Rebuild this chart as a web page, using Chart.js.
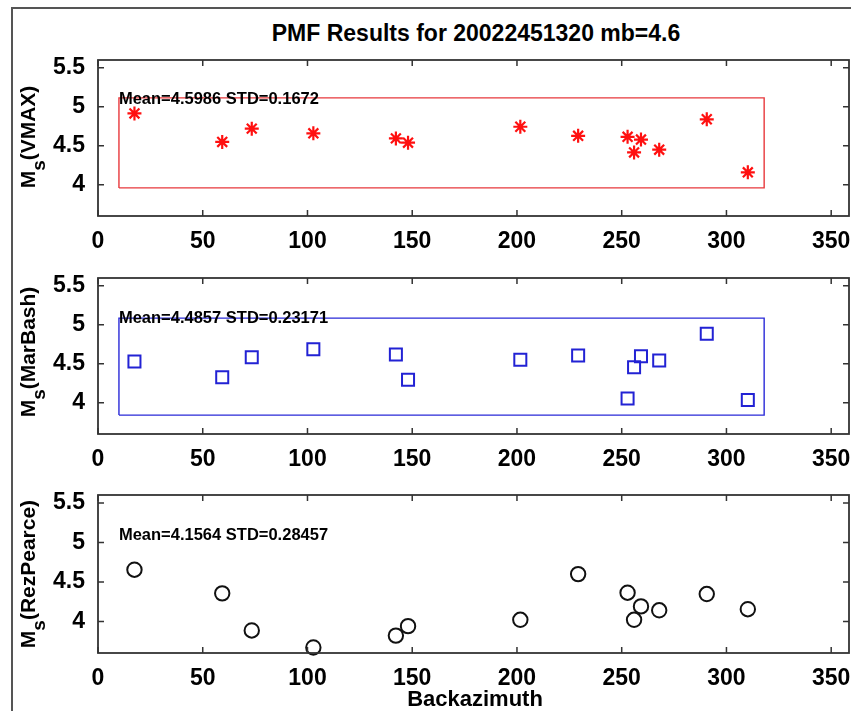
<!DOCTYPE html>
<html>
<head>
<meta charset="utf-8">
<title>PMF Results</title>
<script src="https://cdn.jsdelivr.net/npm/chart.js@4.4.1/dist/chart.umd.min.js"></script>
<style>
    body { margin: 0; background: #fff; }
    #fig {
        position: relative;
        width: 851px;
        height: 711px;
        overflow: hidden;
        font-family: "Liberation Sans", Arial, sans-serif;
        font-weight: bold;
        color: #000;
    }
    #frame {
        position: absolute;
        left: 11px;
        top: 7px;
        width: 900px;
        height: 800px;
        border-left: 2px solid #555;
        border-top: 2px solid #555;
    }
    canvas { position: absolute; left: 0; }
    .title {
        position: absolute;
        left: 476px;
        top: 22px;
        transform: translateX(-50%);
        font-size: 23px;
        line-height: 23px;
        white-space: nowrap;
    }
    .xlab {
        position: absolute;
        left: 475px;
        top: 688px;
        transform: translateX(-50%);
        font-size: 22px;
        line-height: 22px;
        white-space: nowrap;
    }
    .ylab {
        position: absolute;
        font-size: 21px;
        line-height: 21px;
        white-space: nowrap;
        transform: translate(-50%, -50%) rotate(-90deg);
    }
    .ylab sub {
        font-size: 0.9em;
        vertical-align: -0.5em;
        line-height: 0;
    }
</style>
</head>
<body>
<div id="fig">
    <div id="frame"></div>
    <div class="title">PMF Results for 20022451320 mb=4.6</div>

    <canvas id="chartVmax" width="851" height="206" style="top:50px"></canvas>
    <canvas id="chartMarBash" width="851" height="206" style="top:268px"></canvas>
    <canvas id="chartRezPearce" width="851" height="208" style="top:485px"></canvas>

    <div class="ylab" style="left:28px; top:137px">M<sub>s</sub>(VMAX)</div>
    <div class="ylab" style="left:28px; top:352px">M<sub>s</sub>(MarBash)</div>
    <div class="ylab" style="left:28px; top:574px">M<sub>s</sub>(RezPearce)</div>

    <div class="xlab">Backazimuth</div>
</div>

<script>
// station backazimuths (deg), same for every magnitude method
const backazimuth = [17.4, 59.3, 73.4, 102.8, 142.2, 148.0, 201.6, 229.2, 252.8, 255.9, 259.2, 267.9, 290.6, 310.2];

// Ms per station for each method
const msVmax      = [4.915, 4.55, 4.72, 4.66, 4.595, 4.54, 4.744, 4.628, 4.615, 4.415, 4.58, 4.45, 4.84, 4.16];
const msMarBash   = [4.53, 4.328, 4.585, 4.687, 4.62, 4.295, 4.551, 4.606, 4.056, 4.456, 4.597, 4.542, 4.885, 4.035];
const msRezPearce = [4.654, 4.355, 3.885, 3.67, 3.82, 3.94, 4.02, 4.599, 4.363, 4.02, 4.19, 4.141, 4.346, 4.154];

// selection boxes [xmin, xmax] / [ymin, ymax]
const boxVmaxX    = [10, 318];
const boxVmaxY    = [3.96, 5.115];
const boxMarBashX = [10, 318];
const boxMarBashY = [3.842, 5.085];

// summary labels and where they sit (data units)
const statLabels = ['Mean=4.5986 STD=0.1672', 'Mean=4.4857 STD=0.23171', 'Mean=4.1564 STD=0.28457'];
const statX = [10, 10, 10];
const statY = [5.1, 5.08, 5.09];

// axes
const xRange = [0, 358.5];
const yRange = [3.6, 5.6];
const xTicks = [0, 50, 100, 150, 200, 250, 300, 350];
const yTicks = [4, 4.5, 5, 5.5];
const yTickLabels = ['4', '4.5', '5', '5.5'];

const AXIS_COLOR = '#333';
const TICK_FONT = { family: '"Liberation Sans", Arial, sans-serif', size: 23, weight: 'bold' };

function points(xs, ys) {
    return xs.map((x, i) => ({ x: x, y: ys[i] }));
}

function boxOutline(bx, by) {
    return [
        { x: bx[0], y: by[0] }, { x: bx[1], y: by[0] },
        { x: bx[1], y: by[1] }, { x: bx[0], y: by[1] },
        { x: bx[0], y: by[0] }
    ];
}

// closed axes frame with inward ticks on all four sides, plus the stats text
const framePlugin = {
    id: 'frame',
    afterDraw(chart, args, opts) {
        const ctx = chart.ctx;
        const a = chart.chartArea;
        const xs = chart.scales.x;
        const ys = chart.scales.y;
        const tl = 6;

        ctx.save();
        ctx.strokeStyle = AXIS_COLOR;
        ctx.lineWidth = 1.8;
        ctx.strokeRect(a.left, a.top, a.right - a.left, a.bottom - a.top);

        ctx.lineWidth = 1.5;
        ctx.beginPath();
        xTicks.forEach(v => {
            const px = xs.getPixelForValue(v);
            ctx.moveTo(px, a.bottom);
            ctx.lineTo(px, a.bottom - tl);
            ctx.moveTo(px, a.top);
            ctx.lineTo(px, a.top + tl);
        });
        yTicks.forEach(v => {
            const py = ys.getPixelForValue(v);
            ctx.moveTo(a.left, py);
            ctx.lineTo(a.left + tl, py);
            ctx.moveTo(a.right, py);
            ctx.lineTo(a.right - tl, py);
        });
        ctx.stroke();

        ctx.fillStyle = '#000';
        ctx.font = 'bold 16.5px "Liberation Sans", Arial, sans-serif';
        ctx.textAlign = 'left';
        ctx.textBaseline = 'middle';
        ctx.fillText(opts.text, xs.getPixelForValue(opts.tx), ys.getPixelForValue(opts.ty));
        ctx.restore();
    }
};

function makePanel(canvasId, datasets, idx) {
    const ctx = document.getElementById(canvasId);
    return new Chart(ctx.getContext('2d'), {
        type: 'scatter',
        data: { datasets: datasets },
        options: {
            responsive: false,
            animation: false,
            devicePixelRatio: 1,
            layout: {
                autoPadding: false,
                padding: { top: 10, right: 2, bottom: 0, left: 0 }
            },
            scales: {
                x: {
                    type: 'linear',
                    min: xRange[0],
                    max: xRange[1],
                    afterBuildTicks: s => { s.ticks = xTicks.map(v => ({ value: v })); },
                    afterFit: s => {
                        s.height = 40;
                        s.paddingLeft = 0;
                        s.paddingRight = 0;
                    },
                    grid: { display: false },
                    border: { display: false },
                    ticks: {
                        color: '#000',
                        font: TICK_FONT,
                        padding: 4,
                        maxRotation: 0,
                        autoSkip: false,
                        callback: v => String(v)
                    }
                },
                y: {
                    type: 'linear',
                    min: yRange[0],
                    max: yRange[1],
                    afterBuildTicks: s => { s.ticks = yTicks.map(v => ({ value: v })); },
                    afterFit: s => {
                        s.width = 98;
                        s.paddingTop = 0;
                        s.paddingBottom = 0;
                    },
                    grid: { display: false },
                    border: { display: false },
                    ticks: {
                        color: '#000',
                        font: TICK_FONT,
                        padding: 5,
                        autoSkip: false,
                        callback: v => yTickLabels[yTicks.indexOf(v)]
                    }
                }
            },
            plugins: {
                legend: { display: false },
                tooltip: { enabled: false },
                frame: { text: statLabels[idx], tx: statX[idx], ty: statY[idx] }
            }
        },
        plugins: [framePlugin]
    });
}

makePanel('chartVmax', [
    {
        data: points(backazimuth, msVmax),
        pointStyle: 'star',
        pointRadius: 7,
        pointBorderWidth: 2.2,
        pointBorderColor: '#ff1010',
        pointBackgroundColor: '#ff1010',
        clip: false
    },
    {
        data: boxOutline(boxVmaxX, boxVmaxY),
        showLine: true,
        borderColor: '#e8383c',
        borderWidth: 1.4,
        pointRadius: 0,
        fill: false
    }
], 0);

makePanel('chartMarBash', [
    {
        data: points(backazimuth, msMarBash),
        pointStyle: 'rect',
        pointRadius: 8.5,
        pointBorderWidth: 2,
        pointBorderColor: '#2222d4',
        pointBackgroundColor: 'rgba(0,0,0,0)',
        clip: false
    },
    {
        data: boxOutline(boxMarBashX, boxMarBashY),
        showLine: true,
        borderColor: '#2a2ad8',
        borderWidth: 1.4,
        pointRadius: 0,
        fill: false
    }
], 1);

makePanel('chartRezPearce', [
    {
        data: points(backazimuth, msRezPearce),
        pointStyle: 'circle',
        pointRadius: 7.2,
        pointBorderWidth: 2,
        pointBorderColor: '#111',
        pointBackgroundColor: 'rgba(0,0,0,0)',
        clip: false
    }
], 2);
</script>
</body>
</html>
